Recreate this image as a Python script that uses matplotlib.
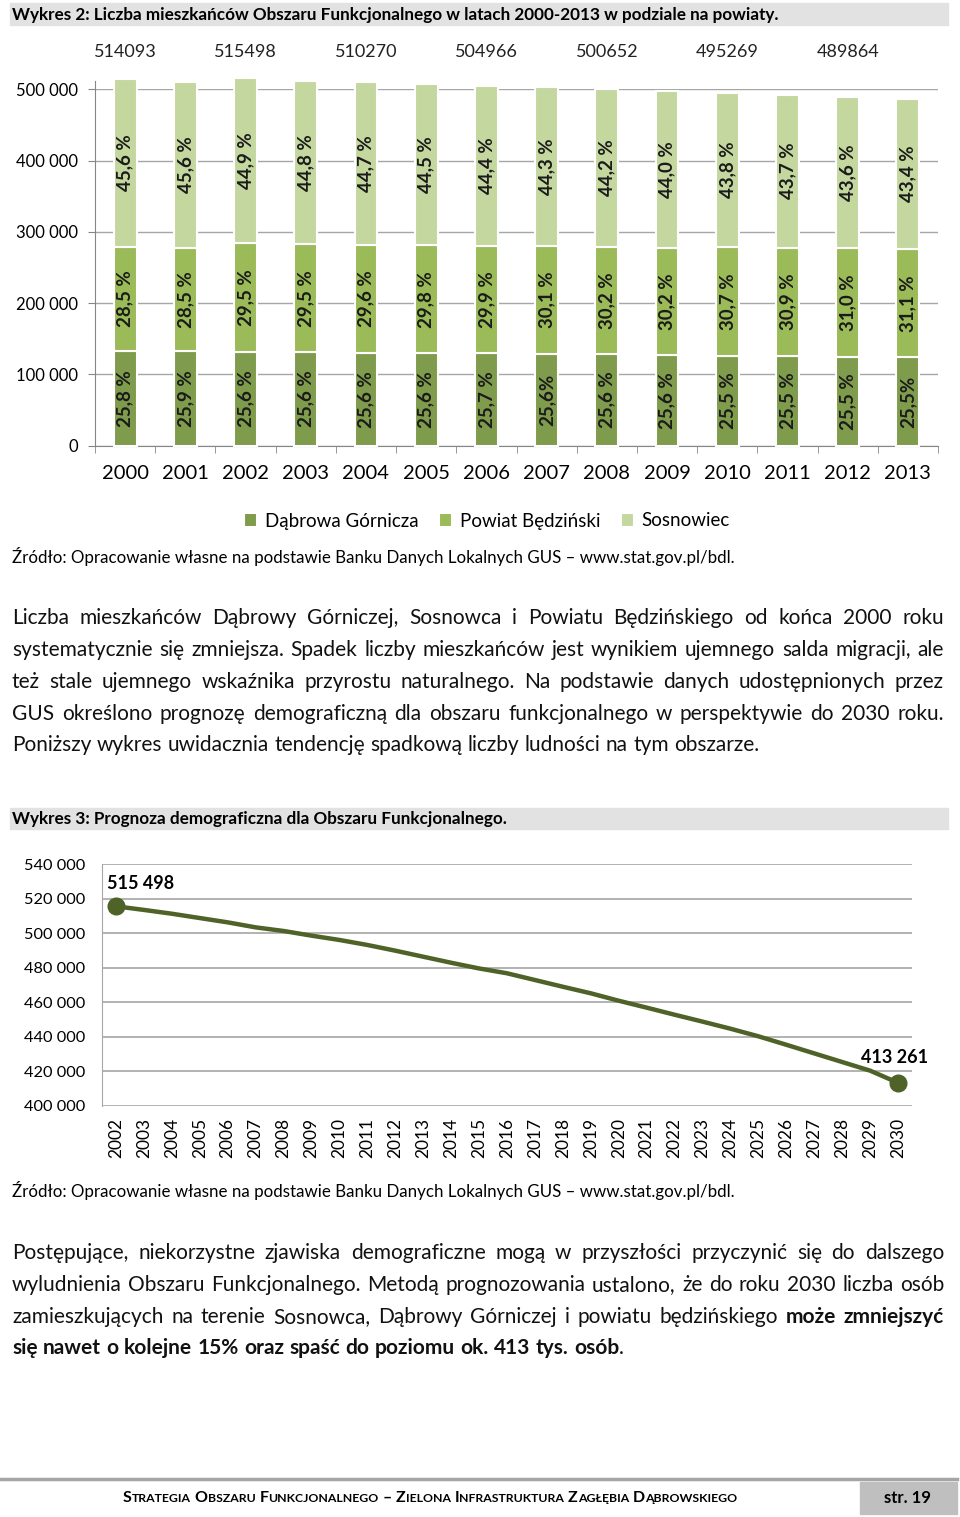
import numpy as np
import matplotlib
matplotlib.use('Agg')
import matplotlib.pyplot as plt
from matplotlib.patches import Rectangle
from matplotlib.transforms import blended_transform_factory

plt.rcParams['font.family'] = ['Lato', 'DejaVu Sans']

# --- data, chart 2 (population by district) ---
years = [str(y) for y in range(2000, 2014)]
totals = [514093, 510900, 515498, 512300, 510270, 507700, 504966,
          502800, 500652, 497900, 495269, 492600, 489864, 486700]
pct_dabrowa = [25.8, 25.9, 25.6, 25.6, 25.6, 25.6, 25.7, 25.6, 25.6, 25.6, 25.5, 25.5, 25.5, 25.5]
pct_powiat = [28.5, 28.5, 29.5, 29.5, 29.6, 29.8, 29.9, 30.1, 30.2, 30.2, 30.7, 30.9, 31.0, 31.1]
pct_sosnowiec = [45.6, 45.6, 44.9, 44.8, 44.7, 44.5, 44.4, 44.3, 44.2, 44.0, 43.8, 43.7, 43.6, 43.4]
series_names = ['Dąbrowa Górnicza', 'Powiat Będziński', 'Sosnowiec']

# --- data, chart 3 (forecast) ---
fc_years = [str(y) for y in range(2002, 2031)]
fc_values = [515498, 513400, 511200, 508700, 506200, 503300, 501200, 498500, 496000,
             493100, 489800, 486300, 482800, 479500, 476700, 472800, 468900, 465100,
             460800, 456800, 452700, 448700, 444600, 440200, 435300, 430300, 425300,
             420300, 413261]

c_dab, c_pow, c_sos = '#7f9b4c', '#9bbb59', '#c4d79f'
grid_c = '#a6a6a6'

W, H = 960, 1517
fig = plt.figure(figsize=(W / 100, H / 100), dpi=100)
bg = fig.add_axes([0, 0, 1, 1])
bg.set_xlim(0, W)
bg.set_ylim(H, 0)
bg.axis('off')
r = fig.canvas.get_renderer()


def box(l, t, rr, b):
    return [l / W, 1 - b / H, (rr - l) / W, (b - t) / H]


def width(t):
    return t.get_window_extent(r).width


def tokens(line):
    out = []
    prev_space = True
    for k, part in enumerate(line.split('**')):
        wt = 'bold' if k % 2 else 'normal'
        if not part:
            continue
        for j, w in enumerate(part.split()):
            if j == 0 and out and not prev_space and part[0] != ' ':
                out[-1].append((w, wt))
            else:
                out.append([(w, wt)])
        prev_space = part[-1] == ' '
    return out


def line_text(line, y, size, x0=12, x1=944, justify=True):
    groups = tokens(line)
    arts = []
    for g in groups:
        arts.append([bg.text(0, y, w, fontsize=size, fontweight=wt, va='center',
                             ha='left', color='#111111') for w, wt in g])
    widths = [sum(width(a) for a in g) for g in arts]
    t1 = bg.text(0, 0, 'a a', fontsize=size)
    t2 = bg.text(0, 0, 'aa', fontsize=size)
    sp = width(t1) - width(t2)
    t1.remove(); t2.remove()
    gap = (x1 - x0 - sum(widths)) / (len(arts) - 1) if justify else sp
    x = x0
    for g, wd in zip(arts, widths):
        xx = x
        for a in g:
            a.set_x(xx)
            xx += width(a)
        x += wd + gap


# --- header bars ---
bg.add_patch(Rectangle((10, 3), 938, 22, color='#e2e2e2'))
bg.text(12, 14.5, 'Wykres 2: Liczba mieszkańców Obszaru Funkcjonalnego w latach 2000-2013 w podziale na powiaty.',
        fontsize=12.3, fontweight='bold', va='center', ha='left')
bg.add_patch(Rectangle((10, 808), 938, 21, color='#e2e2e2'))
bg.text(12, 818.5, 'Wykres 3: Prognoza demograficzna dla Obszaru Funkcjonalnego.',
        fontsize=12.3, fontweight='bold', va='center', ha='left')

# --- chart 2: stacked bars ---
ax1 = fig.add_axes(box(95, 89.3, 938, 445.7))
x = np.arange(len(years))
tot = np.array(totals, dtype=float)
dab = tot * np.array(pct_dabrowa) / 100
pw = tot * np.array(pct_powiat) / 100
sos = tot - dab - pw
bw = 0.38
b1 = ax1.bar(x, dab, bw, color=c_dab, edgecolor='white', lw=1.5, clip_on=False, label=series_names[0], zorder=3)
b2 = ax1.bar(x, pw, bw, bottom=dab, color=c_pow, edgecolor='white', lw=1.5, clip_on=False, label=series_names[1], zorder=3)
b3 = ax1.bar(x, sos, bw, bottom=dab + pw, color=c_sos, edgecolor='white', lw=1.5, clip_on=False, label=series_names[2], zorder=3)


def pct_label(v, i):
    s = f'{v:.1f}'.replace('.', ',')
    return s + ('%' if years[i] in ('2007', '2013') and v == pct_dabrowa[i] else ' %')


lab_kw = dict(rotation=90, ha='center', va='center', fontsize=13.5, fontweight='bold',
              color='#1a1a1a', zorder=4)
for i in x:
    ax1.text(i, dab[i] / 2, pct_label(pct_dabrowa[i], i), **lab_kw)
    ax1.text(i, dab[i] + pw[i] / 2, pct_label(pct_powiat[i], -1), **lab_kw)
    ax1.text(i, dab[i] + pw[i] + sos[i] / 2, pct_label(pct_sosnowiec[i], -1), **lab_kw)

trans = blended_transform_factory(ax1.transData, ax1.transAxes)
for i in range(0, len(years), 2):
    ax1.text(i, 1.105, str(totals[i]), transform=trans, ha='center', va='center',
             fontsize=13, color='#222222')

ax1.set_xlim(-0.5, len(years) - 0.5)
ax1.set_ylim(0, 500000)
ax1.set_yticks(range(0, 500001, 100000))
ax1.set_yticklabels(['0' if v == 0 else f'{v:,}'.replace(',', ' ') for v in range(0, 500001, 100000)])
ax1.set_xticks(x)
ax1.set_xticklabels(years)
ax1.set_xticks(np.arange(-0.5, len(years)), minor=True)
ax1.tick_params(axis='x', which='major', length=0, pad=14, labelsize=14.5)
ax1.tick_params(axis='x', which='minor', length=5, color='#868686')
ax1.tick_params(axis='y', length=5, color='#868686', pad=7.5, labelsize=12)
ax1.yaxis.grid(True, color=grid_c, lw=1)
ax1.set_axisbelow(True)
for s in ['top', 'right']:
    ax1.spines[s].set_visible(False)
for s in ['left', 'bottom']:
    ax1.spines[s].set_color('#868686')
ax1.spines['left'].set_bounds(0, 512000)
ax1.spines['left'].set_clip_on(False)

fig.legend(handles=[b1, b2, b3], loc='center', bbox_to_anchor=(487 / W, 1 - 521 / H), ncol=3,
           frameon=False, fontsize=13.5, handlelength=0.7, handleheight=0.7, handletextpad=0.4,
           columnspacing=1.1)

src = 'Źródło: Opracowanie własne na podstawie Banku Danych Lokalnych GUS – www.stat.gov.pl/bdl.'
bg.text(12, 556, src, fontsize=12.2, va='center', ha='left')
bg.text(12, 1190, src, fontsize=12.2, va='center', ha='left')

par1 = ['Liczba mieszkańców Dąbrowy Górniczej, Sosnowca i Powiatu Będzińskiego od końca 2000 roku',
        'systematycznie się zmniejsza. Spadek liczby mieszkańców jest wynikiem ujemnego salda migracji, ale',
        'też stale ujemnego wskaźnika przyrostu naturalnego. Na podstawie danych udostępnionych przez',
        'GUS określono prognozę demograficzną dla obszaru funkcjonalnego w perspektywie do 2030 roku.',
        'Poniższy wykres uwidacznia tendencję spadkową liczby ludności na tym obszarze.']
for k, (ln, yy) in enumerate(zip(par1, [618, 650, 682, 714, 745])):
    line_text(ln, yy, 15, justify=k < len(par1) - 1)

par2 = ['Postępujące, niekorzystne zjawiska demograficzne mogą w przyszłości przyczynić się do dalszego',
        'wyludnienia Obszaru Funkcjonalnego. Metodą prognozowania ustalono, że do roku 2030 liczba osób',
        'zamieszkujących na terenie Sosnowca, Dąbrowy Górniczej i powiatu będzińskiego **może zmniejszyć**',
        '**się nawet o kolejne 15% oraz spaść do poziomu ok. 413 tys. osób**.']
for k, (ln, yy) in enumerate(zip(par2, [1253, 1285, 1317, 1348])):
    line_text(ln, yy, 15, justify=k < len(par2) - 1)

# --- chart 3: forecast line ---
ax2 = fig.add_axes(box(102, 864, 912, 1105.7))
xi = np.arange(len(fc_years))
ax2.plot(xi, fc_values, color='#4f6228', lw=3.2, solid_capstyle='round', zorder=3)
ax2.plot([xi[0], xi[-1]], [fc_values[0], fc_values[-1]], 'o', color='#4f6228', ms=12, zorder=4,
         clip_on=False)
ax2.annotate(f'{fc_values[0]:,}'.replace(',', ' '), (xi[0], fc_values[0]), xytext=(-9, 23),
             textcoords='offset pixels', ha='left', va='center', fontsize=13, fontweight='bold')
ax2.annotate(f'{fc_values[-1]:,}'.replace(',', ' '), (xi[-1], fc_values[-1]), xytext=(-3, 25),
             textcoords='offset pixels', ha='center', va='center', fontsize=13, fontweight='bold')
ax2.set_xlim(-0.5, len(fc_years) - 0.5)
ax2.set_ylim(400000, 540000)
yt = range(400000, 540001, 20000)
ax2.set_yticks(yt)
ax2.set_yticklabels([f'{v:,}'.replace(',', ' ') for v in yt])
ax2.set_xticks(xi)
ax2.set_xticklabels(fc_years, rotation=90)
ax2.tick_params(axis='y', length=0, pad=12, labelsize=11.8)
ax2.tick_params(axis='x', length=0, pad=9, labelsize=12.5)
ax2.yaxis.grid(True, color=grid_c, lw=1.2)
ax2.set_axisbelow(True)
for s in ['top', 'right', 'bottom']:
    ax2.spines[s].set_visible(False)
ax2.spines['left'].set_color(grid_c)

# --- footer ---
bg.plot([0, 957], [1479, 1479], color='#a5a5a5', lw=2.5)
bg.add_patch(Rectangle((860, 1482), 97, 32, color='#bfbfbf'))
bg.text(908, 1498, 'str. 19', fontsize=12, fontweight='bold', ha='center', va='center')

footer = 'Strategia Obszaru Funkcjonalnego – Zielona Infrastruktura Zagłębia Dąbrowskiego'
pieces = []
for word in footer.split():
    pieces.append([bg.text(0, 1498, word[0].upper(), fontsize=11.5, fontweight='bold', va='center'),
                   bg.text(0, 1498, word[1:].upper(), fontsize=8.8, fontweight='bold', va='center')])
sp = 4
total_w = sum(width(a) for p in pieces for a in p) + sp * (len(pieces) - 1)
xx = 430 - total_w / 2
for p in pieces:
    for a in p:
        a.set_x(xx)
        xx += width(a)
    xx += sp

fig.savefig('out.png', dpi=100)
